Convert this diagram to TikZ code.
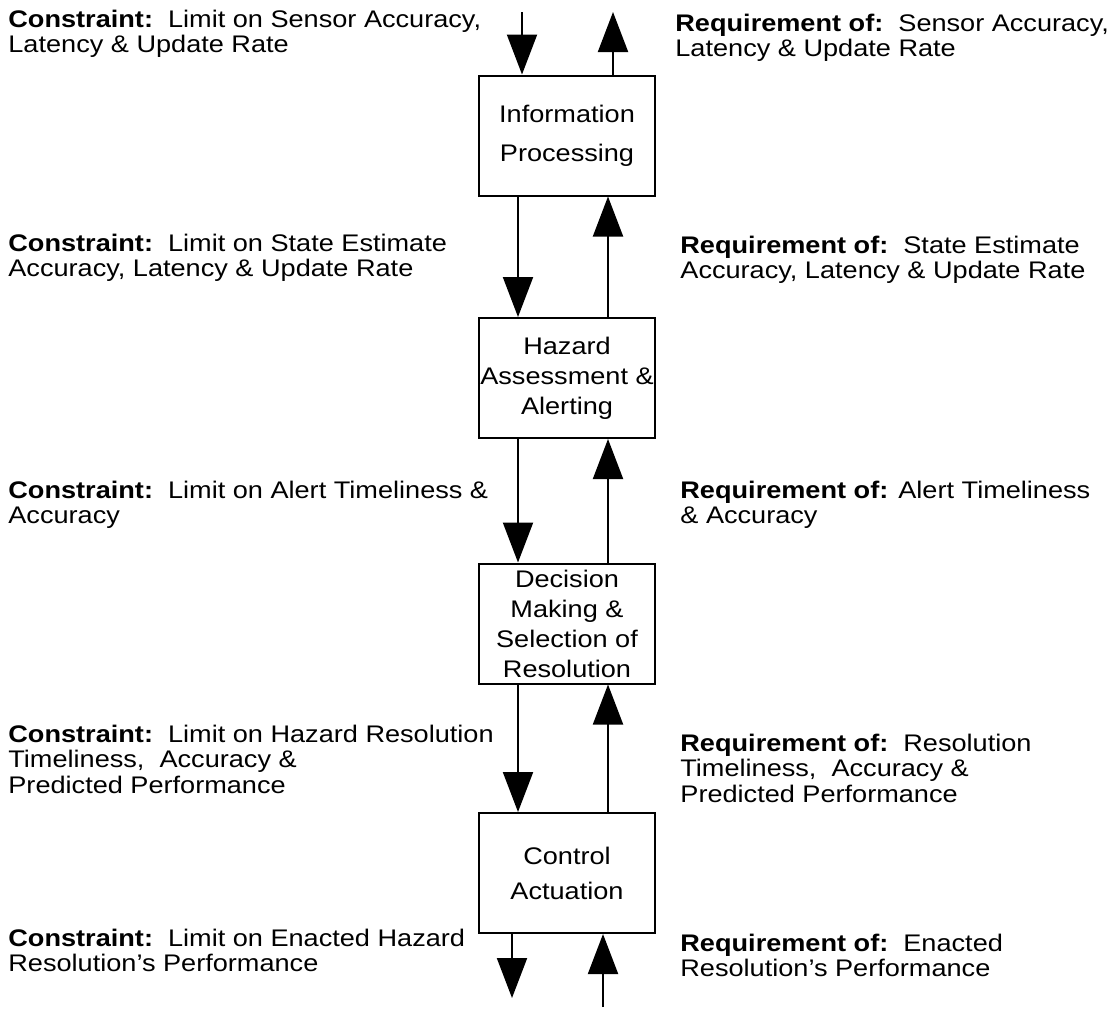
\documentclass[tikz,border=0pt]{standalone}
\usepackage{fontspec}
\setmainfont[FakeStretch=1.13]{Liberation Sans}
\usetikzlibrary{arrows.meta,calc}

\begin{document}
\begin{tikzpicture}[x=0.5pt, y=-0.5pt, >={Triangle[length=20pt,width=15pt]}]
	\tikzset{stage/.style={draw, line width=1pt, minimum width=88pt, minimum height=60pt, inner sep=0pt, align=center, font=\fontsize{12}{15}\selectfont},
		note/.style={anchor=base west, inner sep=0pt, align=left, font=\fontsize{12}{12.8}\selectfont},
		flow/.style={->, line width=1pt}}
	\useasboundingbox (0,0) rectangle (1112,1008);
	% stages
	\node[stage, font=\fontsize{12}{19.5}\selectfont] (info) at (567,135.5) {Information\\Processing};
	\node[stage] (hazard) at (567,378) {Hazard\\Assessment \&\\Alerting};
	\node[stage] (decide) at (567,623.5) {Decision\\Making \&\\Selection of\\Resolution};
	\node[stage, font=\fontsize{12}{17.5}\selectfont] (actuate) at (567,873) {Control\\Actuation};
	% columns and free ends
	\coordinate (dcol) at (518,0);
	\coordinate (ucol) at (608,0);
	\coordinate (sensorin) at (522,12);
	\coordinate (sensorout) at (613,12);
	\coordinate (enactout) at (512,998);
	\coordinate (enactin) at (603,1007);
	% flows
	\draw[flow] (sensorin) -- (info.north -| sensorin);
	\draw[flow] (info.north -| sensorout) -- (sensorout);
	\draw[flow] (info.south -| dcol) -- (hazard.north -| dcol);
	\draw[flow] (hazard.north -| ucol) -- (info.south -| ucol);
	\draw[flow] (hazard.south -| dcol) -- (decide.north -| dcol);
	\draw[flow] (decide.north -| ucol) -- (hazard.south -| ucol);
	\draw[flow] (decide.south -| dcol) -- (actuate.north -| dcol);
	\draw[flow] (actuate.north -| ucol) -- (decide.south -| ucol);
	\draw[flow] (actuate.south -| enactout) -- (enactout);
	\draw[flow] (enactin) -- (actuate.south -| enactin);
	% constraints (left) and requirements (right); base = last line
	\node[note] (c1) at (8,52.6) {\textbf{Constraint:}\ \ Limit on Sensor Accuracy,\\Latency \& Update Rate};
	\node[note] (r1) at (675,56.6) {\textbf{Requirement of:}\ \ Sensor Accuracy,\\Latency \& Update Rate};
	\node[note] (c2) at (8,276.6) {\textbf{Constraint:}\ \ Limit on State Estimate\\Accuracy, Latency \& Update Rate};
	\node[note] (r2) at (680,278.6) {\textbf{Requirement of:}\ \ State Estimate\\Accuracy, Latency \& Update Rate};
	\node[note] (c3) at (8,523.6) {\textbf{Constraint:}\ \ Limit on Alert Timeliness \&\\Accuracy};
	\node[note] (r3) at (680,523.6) {\textbf{Requirement of:} Alert Timeliness\\\& Accuracy};
	\node[note] (c4) at (8,793.2) {\textbf{Constraint:}\ \ Limit on Hazard Resolution\\Timeliness,\ \ Accuracy \&\\Predicted Performance};
	\node[note] (r4) at (680,802.2) {\textbf{Requirement of:}\ \ Resolution\\Timeliness,\ \ Accuracy \&\\Predicted Performance};
	\node[note] (c5) at (8,971.6) {\textbf{Constraint:}\ \ Limit on Enacted Hazard\\Resolution's Performance};
	\node[note] (r5) at (680,976.6) {\textbf{Requirement of:}\ \ Enacted\\Resolution's Performance};
\end{tikzpicture}
\end{document}
